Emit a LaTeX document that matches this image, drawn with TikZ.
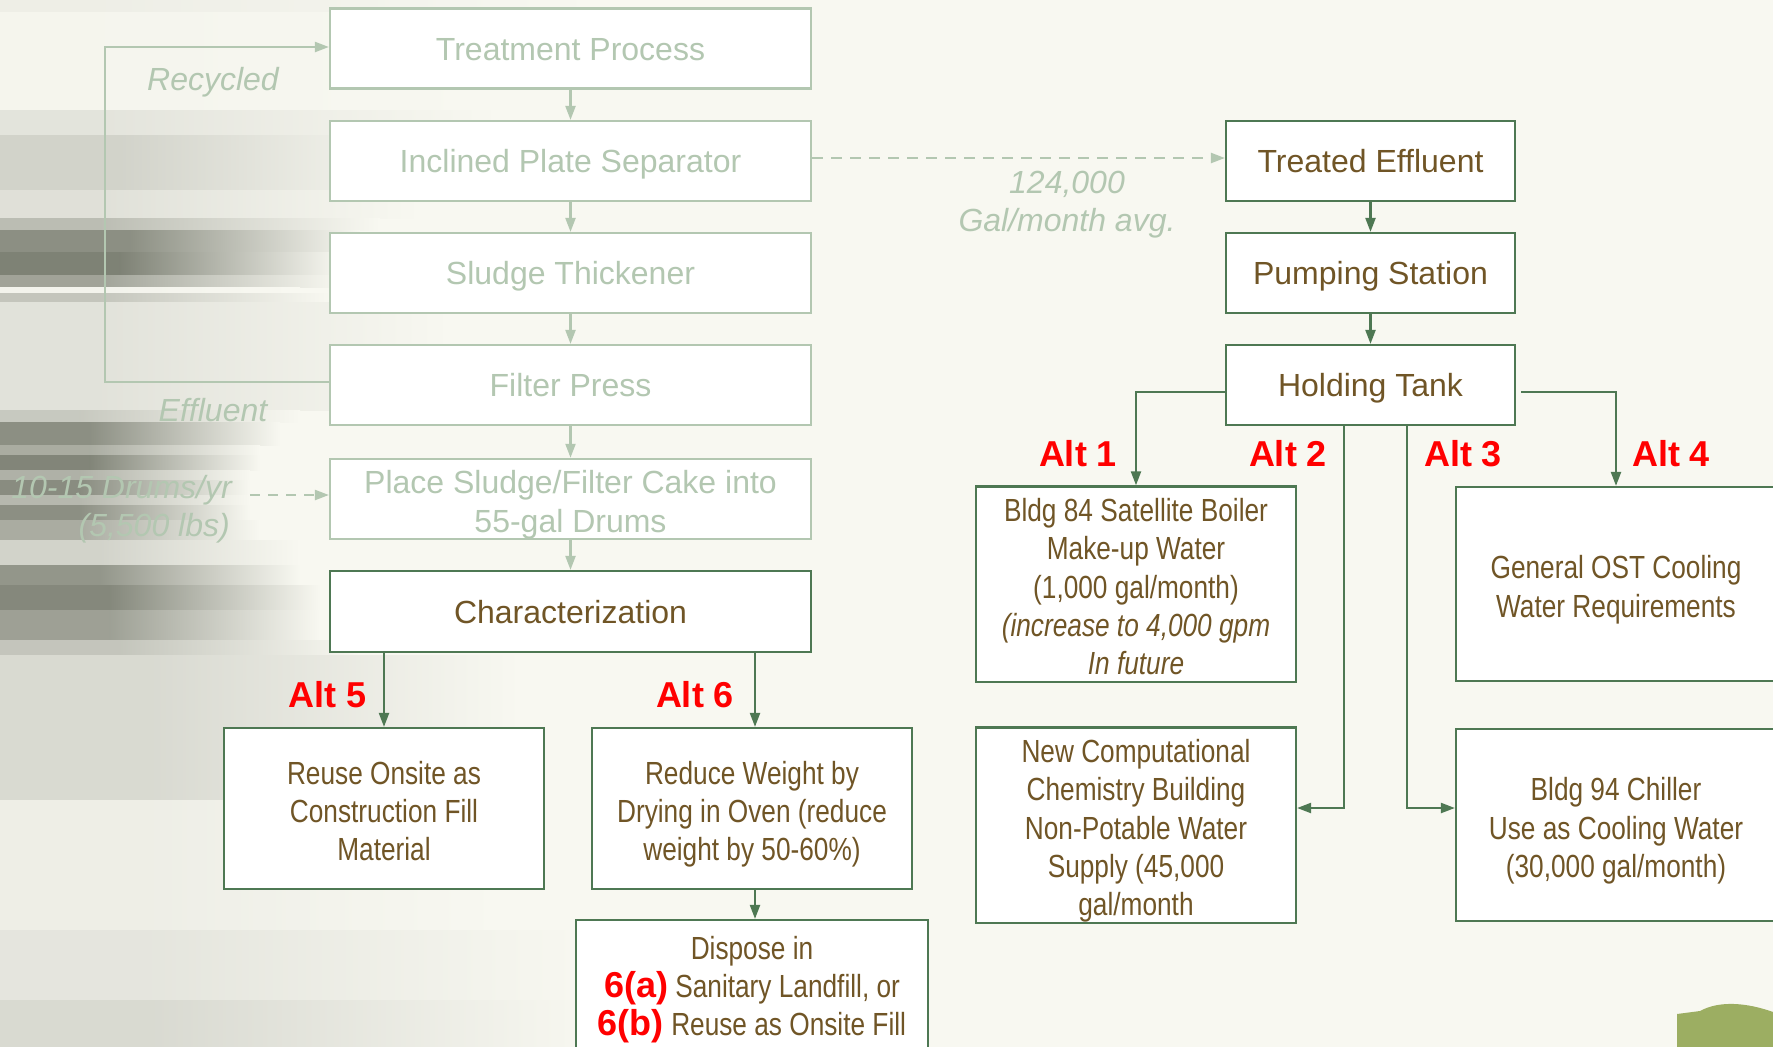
\documentclass[tikz,border=0pt]{standalone}
\usepackage{fontspec}
\setmainfont{Liberation Sans}
\newfontfamily\narrowfont{Liberation Sans}[FakeStretch=0.82]
\usetikzlibrary{arrows.meta,calc}

\definecolor{bgc}{HTML}{F8F8F1}
\definecolor{dk}{HTML}{4A4F40}
\definecolor{sage}{HTML}{B3C7B1}
\definecolor{dgreen}{HTML}{4E7853}
\definecolor{txtbrown}{HTML}{705526}
\definecolor{altred}{HTML}{FF0000}
\definecolor{hill}{HTML}{9CAE62}

\tikzset{
  fbox/.style={draw=sage, line width=2.2pt, fill=white, text=sage, inner sep=0pt,
    minimum width=481pt, minimum height=80pt, align=center,
    font=\fontsize{32}{38.3}\selectfont},
  dbox/.style={draw=dgreen, line width=2.2pt, fill=white, text=txtbrown, inner sep=0pt,
    align=center, font=\fontsize{32}{38.3}\selectfont},
  nbox/.style={dbox, font=\narrowfont\fontsize{32}{38.3}\selectfont},
  oneline/.style={text height=23pt, text depth=0pt},
  farr/.style={draw=sage, line width=2.2pt, -{Triangle[length=14pt,width=10pt]}},
  darr/.style={draw=dgreen, line width=2.2pt, -{Triangle[length=14pt,width=10pt]}},
  altlabel/.style={text=altred, font=\bfseries\fontsize{36}{40}\selectfont,
    inner sep=0pt, text height=26pt, text depth=0pt},
  note/.style={text=sage, font=\itshape\fontsize{32}{38}\selectfont,
    inner sep=0pt, text height=23pt, text depth=0pt},
}
% struts that give every multi-line box the same first-line height and last-line depth
\newcommand{\firstline}{\rule{0pt}{35pt}}
\newcommand{\lastline}{\rule[-7pt]{0pt}{0pt}}
\newcommand{\redb}[1]{{\color{altred}\fontspec{Liberation Sans}\bfseries\fontsize{36}{38.3}\selectfont #1}}

\begin{document}
\begin{tikzpicture}[x=1pt, y=-1pt]
  \useasboundingbox (0,0) rectangle (1773,1047);
  \clip (0,0) rectangle (1773,1047);

  % ---- soft streaked background ----
  \fill[bgc] (0,0) rectangle (1773,1047);
  \foreach \a/\b/\p/\xa/\xb in {
      0/12/6/100/600, 12/110/2/100/500, 110/135/12/100/500, 135/190/22/120/420,
      190/218/14/100/420, 218/230/35/100/380, 230/252/62/130/360, 252/275/70/120/340,
      275/287/50/100/340, 287/293/3/100/300, 293/302/30/100/330, 302/410/13/100/450,
      410/422/28/80/300, 422/445/62/90/280, 445/455/45/90/260, 455/470/68/90/260,
      470/480/42/80/250, 480/495/64/80/250, 495/505/38/80/250, 505/520/62/80/250,
      520/540/45/80/260, 540/565/22/100/300, 565/585/58/100/300, 585/610/66/110/320,
      610/640/52/110/320, 640/655/30/120/360, 655/800/18/150/520, 800/930/6/150/500,
      930/1000/11/150/600, 1000/1047/18/150/600}{
    \fill[dk!\p!bgc] (0,\a) rectangle (\xa,\b+0.6);
    \shade[left color=dk!\p!bgc, right color=bgc] (\xa-0.5,\a) rectangle (\xb,\b+0.6);
  }
  % olive hill in the lower right corner
  \fill[hill] (1677,1047) -- (1677,1014) -- (1700,1011)
    .. controls (1720,1000) and (1748,1003) .. (1773,1012) -- (1773,1047) -- cycle;

  % ---- treatment chain (faded) ----
  \node[fbox, oneline] (tp)  at (570.5,48.5) {Treatment Process};
  \node[fbox, oneline] (ips) at (570.5,161)  {Inclined Plate Separator};
  \node[fbox, oneline] (st)  at (570.5,273)  {Sludge Thickener};
  \node[fbox, oneline] (fp)  at (570.5,385)  {Filter Press};
  \node[fbox] (pl) at (570.5,499) {\firstline Place Sludge/Filter Cake into\\55-gal Drums\lastline};

  \draw[farr] (tp)  -- (ips);
  \draw[farr] (ips) -- (st);
  \draw[farr] (st)  -- (fp);
  \draw[farr] (fp)  -- (pl);
  \draw[farr] ([yshift=3pt]fp.west) -- ++(-224,0) |- ([yshift=1.5pt]tp.west);

  \node[note] (rec) at (213,79)  {Recycled};
  \node[note] (eff) at (213,410) {Effluent};
  \node[note, anchor=east] (drum1) at (232,487) {10-15 Drums/yr};
  \node[note, anchor=east] (drum2) at (230,525) {(5,500 lbs)};
  \coordinate (drumtail) at (250,495);
  \draw[farr, dashed, dash pattern=on 10pt off 8pt] (drumtail) -- ([yshift=4pt]pl.west);

  % ---- sludge alternatives ----
  \node[dbox, oneline, minimum width=481pt, minimum height=81pt] (ch) at (570.5,611.5) {Characterization};
  \node[nbox, minimum width=320pt, minimum height=161pt] (reuse) at (384,808.5)
    {\firstline Reuse Onsite as\\Construction Fill\\Material\lastline};
  \node[nbox, minimum width=320pt, minimum height=161pt] (red) at (752,808.5)
    {\firstline Reduce Weight by\\Drying in Oven (reduce\\weight by 50-60\%)\lastline};
  \node[dbox, minimum width=352pt, minimum height=160pt] (dsp) at (752,1000) {};
  \node[anchor=north, inner sep=0pt, text=txtbrown, align=center,
    font=\narrowfont\fontsize{32}{38.3}\selectfont] (dsptxt) at ($(dsp.north)+(0,17)$)
    {Dispose in\\\redb{6(a)} Sanitary Landfill, or\\\redb{6(b)} Reuse as Onsite Fill};

  \coordinate (a6) at ([xshift=3pt]red.north);
  \coordinate (a6s) at ([xshift=3pt]red.south);
  \draw[farr] (pl) -- (ch);
  \draw[darr] (reuse.north |- ch.south) -- (reuse.north);
  \draw[darr] (a6 |- ch.south) -- (a6);
  \draw[darr] (a6s) -- (a6s |- dsp.north);
  \node[altlabel] (alt5) at (328,694) {Alt 5};
  \node[altlabel] (alt6) at (695,694) {Alt 6};

  % ---- treated effluent chain ----
  \node[dbox, oneline, minimum width=289pt, minimum height=80pt] (te) at (1370.5,161) {Treated Effluent};
  \node[dbox, oneline, minimum width=289pt, minimum height=80pt] (ps) at (1370.5,273) {Pumping Station};
  \node[dbox, oneline, minimum width=289pt, minimum height=80pt] (ht) at (1370.5,385) {Holding Tank};
  \draw[darr] (te) -- (ps);
  \draw[darr] (ps) -- (ht);
  \draw[farr, dashed, dash pattern=on 11pt off 8pt] ([yshift=3pt]ips.east) -- ([yshift=3pt]te.west);
  \node[note] (flow1) at (1067,182) {124,000};
  \node[note] (flow2) at (1067,220) {Gal/month avg.};

  % ---- effluent reuse alternatives ----
  \node[nbox, minimum width=320pt, minimum height=194pt] (b84) at (1136,584)
    {\firstline Bldg 84 Satellite Boiler\\Make-up Water\\(1,000 gal/month)\\{\itshape (increase to 4,000 gpm}\\{\itshape In future}\lastline};
  \node[nbox, minimum width=320pt, minimum height=194pt] (ost) at (1616,584)
    {\firstline General OST Cooling\\Water Requirements\lastline};
  \node[nbox, minimum width=320pt, minimum height=192pt] (ncc) at (1136,825)
    {\firstline New Computational\\Chemistry Building\\Non-Potable Water\\Supply (45,000\\gal/month\lastline};
  \node[nbox, minimum width=320pt, minimum height=192pt] (b94) at (1616,825)
    {\firstline Bldg 94 Chiller\\Use as Cooling Water\\(30,000 gal/month)\lastline};

  \draw[darr] ([yshift=-7pt]ht.west) -| (b84.north);
  \draw[darr] ([xshift=5pt,yshift=-7pt]ht.east) -| (ost.north);
  \draw[darr] ([xshift=-26.5pt]ht.south) |- ([yshift=17pt]ncc.east);
  \draw[darr] ([xshift=36.5pt]ht.south) |- ([yshift=17pt]b94.west);

  \node[altlabel] (alt1) at (1078,453) {Alt 1};
  \node[altlabel] (alt2) at (1288,453) {Alt 2};
  \node[altlabel] (alt3) at (1463,453) {Alt 3};
  \node[altlabel] (alt4) at (1671,453) {Alt 4};
\end{tikzpicture}
\end{document}
